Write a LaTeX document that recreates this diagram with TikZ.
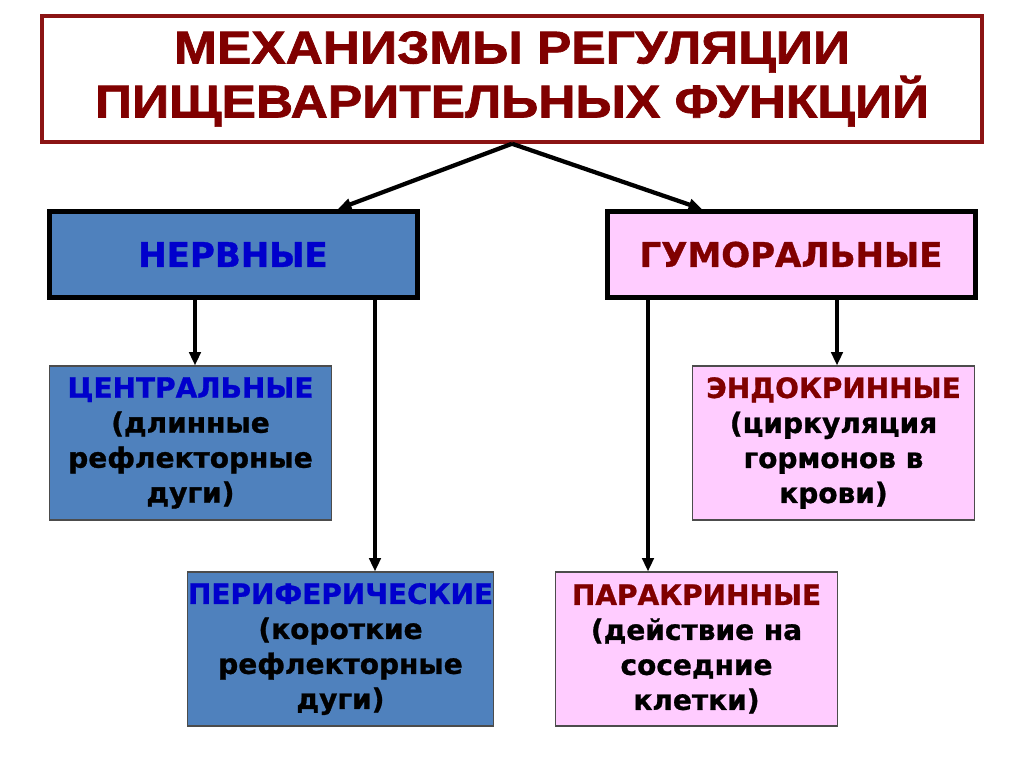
\documentclass[tikz,border=0pt]{standalone}
\usepackage{fontspec}
\setmainfont{Liberation Sans}
\newfontfamily\dejavu{DejaVu Sans}[FakeBold=1]
\newfontfamily\titlefont{Liberation Sans}[FakeStretch=1.12,FakeBold=1.5]
\usetikzlibrary{arrows.meta,calc}
\definecolor{titlered}{HTML}{800000}
\definecolor{borderred}{HTML}{8B1414}
\definecolor{nblue}{HTML}{4F81BD}
\definecolor{tblue}{HTML}{0000CC}
\definecolor{npink}{HTML}{FFCCFF}
\definecolor{darkred}{HTML}{800000}
\begin{document}
\begin{tikzpicture}[x=0.75pt,y=-0.75pt,
  arr/.style={line width=3.2pt,-{Triangle[length=10pt,width=8.5pt]}},
  titlebox/.style={draw=borderred,line width=2.6pt,fill=white,minimum width=705pt,minimum height=94.5pt,inner sep=0pt,align=center,text=titlered,font=\titlefont\fontsize{34.5}{40.5}\selectfont\bfseries},
  mainbox/.style={draw=black,line width=3.75pt,minimum width=276pt,minimum height=64.5pt,inner sep=0pt,font=\dejavu\fontsize{25.5}{30}\selectfont\bfseries},
  subbox/.style={draw=black!70,line width=0.8pt,minimum height=115.5pt,inner sep=0pt,align=center,font=\dejavu\fontsize{21}{26.25}\selectfont\bfseries},
]
\useasboundingbox[fill=white] (0,0) rectangle (1024,767);

\node[titlebox] (t) at (512,79) {МЕХАНИЗМЫ РЕГУЛЯЦИИ\\ПИЩЕВАРИТЕЛЬНЫХ ФУНКЦИЙ};

\node[mainbox,fill=nblue,text=tblue] (n) at (233,254.5) {НЕРВНЫЕ};
\node[mainbox,fill=npink,text=darkred] (g) at (791,254.5) {ГУМОРАЛЬНЫЕ};

\node[subbox,fill=nblue,minimum width=212pt] (c) at (190.5,443)
  {\textcolor{tblue}{ЦЕНТРАЛЬНЫЕ}\\(длинные\\рефлекторные\\дуги)};
\node[subbox,fill=nblue,minimum width=230pt] (p) at (340.5,649)
  {\textcolor{tblue}{ПЕРИФЕРИЧЕСКИЕ}\\(короткие\\рефлекторные\\дуги)};
\node[subbox,fill=npink,minimum width=212pt] (e) at (833.5,443)
  {\textcolor{darkred}{ЭНДОКРИННЫЕ}\\(циркуляция\\гормонов в\\крови)};
\node[subbox,fill=npink,minimum width=212pt] (k) at (696.5,649)
  {\textcolor{darkred}{ПАРАКРИННЫЕ}\\(действие на\\соседние\\клетки)};

\coordinate (nl) at ($(n.north)+(105,0)$);
\coordinate (gr) at ($(g.north)+(-89,0)$);
\draw[arr] (t.south) -- (nl);
\draw[arr] (t.south) -- (gr);

\coordinate (ct) at ($(c.north)+(4.5,0)$);
\coordinate (pt) at ($(p.north)+(34.5,0)$);
\coordinate (kt) at ($(k.north)+(-48.5,0)$);
\coordinate (et) at ($(e.north)+(3.5,0)$);
\draw[arr] (ct |- n.south) -- (ct);
\draw[arr] (pt |- n.south) -- (pt);
\draw[arr] (kt |- g.south) -- (kt);
\draw[arr] (et |- g.south) -- (et);
\end{tikzpicture}
\end{document}
